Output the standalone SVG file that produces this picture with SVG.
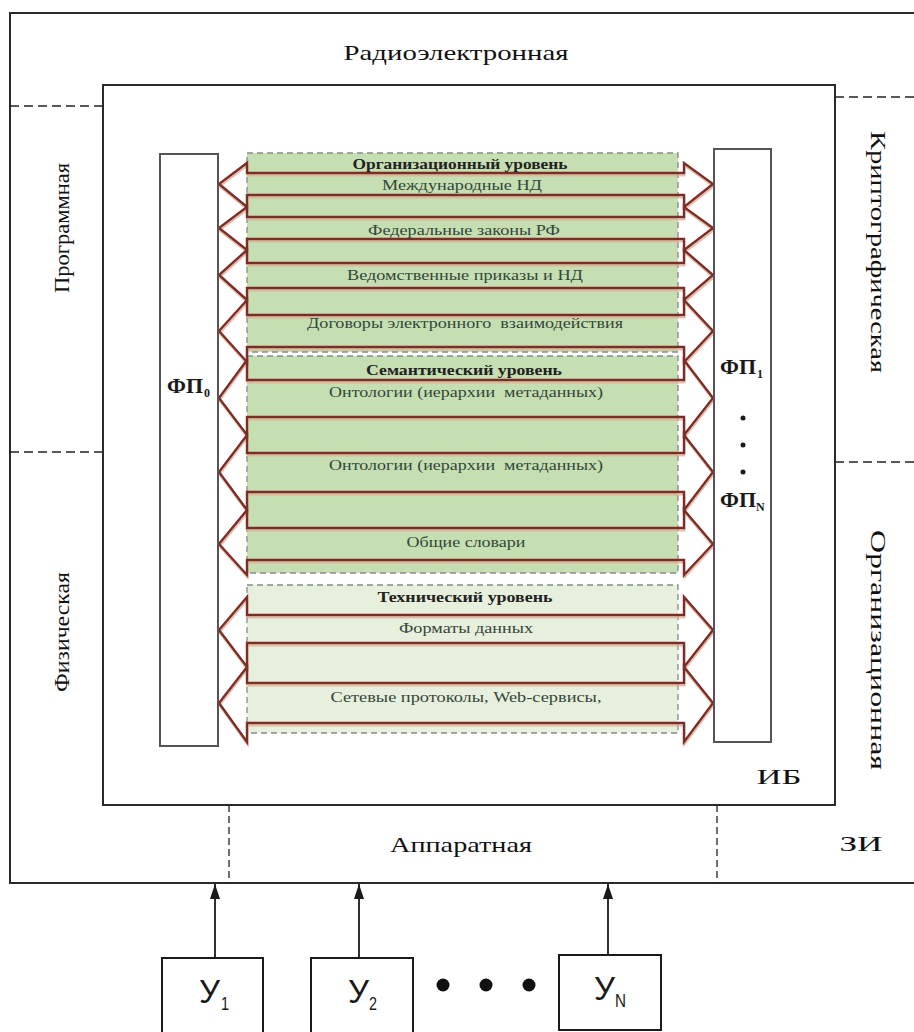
<svg xmlns="http://www.w3.org/2000/svg" width="914" height="1032" viewBox="0 0 914 1032">
<defs>
<style>
.frame{fill:none;stroke:#2a2a2a;stroke-width:2}
.dash{fill:none;stroke:#222;stroke-width:1.6;stroke-dasharray:9,5}
.vdash{fill:none;stroke:#222;stroke-width:1.3;stroke-dasharray:7,4}
.lvl{stroke:#8a8a8a;stroke-width:1.3;stroke-dasharray:6,4}
.arr{fill:none;stroke:#7b2e28;stroke-width:2.4;stroke-linejoin:miter}
.arrs{fill:none;stroke:#e5ab94;stroke-width:2;opacity:0.8}
.lbl{font-family:"Liberation Serif","Times New Roman",serif;font-size:22px;fill:#111}
.mid{font-family:"Liberation Serif","Times New Roman",serif;font-size:15px;fill:#34463a;text-anchor:middle}
.ttl{font-family:"Liberation Serif","Times New Roman",serif;font-size:15px;font-weight:bold;fill:#222;text-anchor:middle}
.fp{font-family:"Liberation Serif","Times New Roman",serif;font-size:20px;font-weight:bold;fill:#1a1a1a}
.fps{font-family:"Liberation Serif","Times New Roman",serif;font-size:12px;font-weight:bold;fill:#1a1a1a}
.box{fill:#fff;stroke:#555;stroke-width:2}
.ub{fill:#fff;stroke:#1a1a1a;stroke-width:2}
.u{font-family:"Liberation Sans",Arial,sans-serif;font-size:33px;fill:#1a1a1a}
.us{font-family:"Liberation Sans",Arial,sans-serif;font-size:19px;fill:#1a1a1a}
.con{stroke:#1a1a1a;stroke-width:1.8;fill:none}
</style>
<marker id="ah" markerWidth="15" markerHeight="10" refX="15" refY="5" orient="auto" markerUnits="userSpaceOnUse" viewBox="0 0 15 10">
<path d="M0,0 L15,5 L0,10 Z" fill="#1a1a1a"/>
</marker>
</defs>
<rect width="914" height="1032" fill="#fff"/>

<g id="zi">
<rect class="frame" x="10" y="13" width="916" height="870"/>
<line class="dash" x1="10" y1="106" x2="103" y2="106"/>
<line class="dash" x1="10" y1="452" x2="103" y2="452"/>
<line class="dash" x1="835" y1="97" x2="914" y2="97"/>
<line class="dash" x1="835" y1="462" x2="914" y2="462"/>
<line class="vdash" x1="229" y1="805" x2="229" y2="883"/>
<line class="vdash" x1="717" y1="805" x2="717" y2="883"/>
<text class="lbl" x="456" y="60" text-anchor="middle" textLength="225" lengthAdjust="spacingAndGlyphs">Радиоэлектронная</text>
<text class="lbl" transform="translate(69,228) rotate(-90)" text-anchor="middle" textLength="130" lengthAdjust="spacingAndGlyphs">Программная</text>
<text class="lbl" transform="translate(69,632) rotate(-90)" text-anchor="middle" textLength="120" lengthAdjust="spacingAndGlyphs">Физическая</text>
<text class="lbl" transform="translate(871,252) rotate(90)" text-anchor="middle" textLength="242" lengthAdjust="spacingAndGlyphs">Криптографическая</text>
<text class="lbl" transform="translate(871,650) rotate(90)" text-anchor="middle" textLength="240" lengthAdjust="spacingAndGlyphs">Организационная</text>
<text class="lbl" x="461" y="852" text-anchor="middle" textLength="142" lengthAdjust="spacingAndGlyphs">Аппаратная</text>
<text class="lbl" x="861" y="851" text-anchor="middle" font-size="30" textLength="43" lengthAdjust="spacingAndGlyphs">ЗИ</text>
</g>

<g id="ib">
<rect x="103" y="85" width="732" height="720" fill="#fff" stroke="#2a2a2a" stroke-width="2"/>
<text class="lbl" x="779" y="784" text-anchor="middle" font-size="27" textLength="45" lengthAdjust="spacingAndGlyphs">ИБ</text>
</g>

<g id="levels">
<rect x="247" y="153" width="431" height="199" fill="#c6dfb2"/>
<rect x="247" y="356" width="431" height="217" fill="#c6dfb2"/>
<rect x="247" y="585" width="431" height="148" fill="#e7efdd"/>
<rect class="lvl" x="247" y="153" width="431" height="199" fill="none"/>
<rect class="lvl" x="247" y="356" width="431" height="217" fill="none"/>
<rect class="lvl" x="247" y="585" width="431" height="148" fill="none"/>
</g>

<g id="connectors">
<g transform="translate(0.5,2.5)">
<path class="arrs" d="M684,173 L684,163 L713,184 L684,207 L684,195 L247,195 L247,207 L219,184 L247,163 L247,173 Z"/>
<path class="arrs" d="M684,217 L684,207 L713,228 L684,250 L684,239 L247,239 L247,250 L219,228 L247,207 L247,217 Z"/>
<path class="arrs" d="M684,263 L684,250 L713,275 L684,300 L684,288 L247,288 L247,300 L219,275 L247,250 L247,263 Z"/>
<path class="arrs" d="M684,315 L684,300 L713,331 L684,362 L684,347 L247,347 L247,362 L219,331 L247,300 L247,315 Z"/>
<path class="arrs" d="M684,380 L684,360 L713,398 L684,435 L684,417 L247,417 L247,435 L219,398 L247,360 L247,380 Z"/>
<path class="arrs" d="M684,453 L684,435 L713,472 L684,510 L684,492 L247,492 L247,510 L219,472 L247,435 L247,453 Z"/>
<path class="arrs" d="M684,528 L684,510 L713,544 L684,575 L684,560 L247,560 L247,575 L219,544 L247,510 L247,528 Z"/>
<path class="arrs" d="M684,615 L684,597 L713,630 L684,667 L684,643 L247,643 L247,667 L219,630 L247,597 L247,615 Z"/>
<path class="arrs" d="M684,683 L684,667 L713,703 L684,742 L684,723 L247,723 L247,742 L219,703 L247,667 L247,683 Z"/>
</g>
<path class="arr" d="M684,173 L684,163 L713,184 L684,207 L684,195 L247,195 L247,207 L219,184 L247,163 L247,173 Z"/>
<path class="arr" d="M684,217 L684,207 L713,228 L684,250 L684,239 L247,239 L247,250 L219,228 L247,207 L247,217 Z"/>
<path class="arr" d="M684,263 L684,250 L713,275 L684,300 L684,288 L247,288 L247,300 L219,275 L247,250 L247,263 Z"/>
<path class="arr" d="M684,315 L684,300 L713,331 L684,362 L684,347 L247,347 L247,362 L219,331 L247,300 L247,315 Z"/>
<path class="arr" d="M684,380 L684,360 L713,398 L684,435 L684,417 L247,417 L247,435 L219,398 L247,360 L247,380 Z"/>
<path class="arr" d="M684,453 L684,435 L713,472 L684,510 L684,492 L247,492 L247,510 L219,472 L247,435 L247,453 Z"/>
<path class="arr" d="M684,528 L684,510 L713,544 L684,575 L684,560 L247,560 L247,575 L219,544 L247,510 L247,528 Z"/>
<path class="arr" d="M684,615 L684,597 L713,630 L684,667 L684,643 L247,643 L247,667 L219,630 L247,597 L247,615 Z"/>
<path class="arr" d="M684,683 L684,667 L713,703 L684,742 L684,723 L247,723 L247,742 L219,703 L247,667 L247,683 Z"/>
<line class="con" x1="215" y1="957" x2="215" y2="884" marker-end="url(#ah)"/>
<line class="con" x1="359" y1="957" x2="359" y2="884" marker-end="url(#ah)"/>
<line class="con" x1="608" y1="954" x2="608" y2="884" marker-end="url(#ah)"/>
</g>

<g id="texts">
<text class="ttl" x="460" y="169" textLength="215" lengthAdjust="spacingAndGlyphs">Организационный уровень</text>
<text class="mid" x="462" y="190" textLength="160" lengthAdjust="spacingAndGlyphs">Международные НД</text>
<text class="mid" x="464" y="235" textLength="192" lengthAdjust="spacingAndGlyphs">Федеральные законы РФ</text>
<text class="mid" x="465" y="280" textLength="236" lengthAdjust="spacingAndGlyphs">Ведомственные приказы и НД</text>
<text class="mid" x="465" y="328" textLength="316" lengthAdjust="spacingAndGlyphs" xml:space="preserve">Договоры электронного  взаимодействия</text>
<text class="ttl" x="464" y="375" textLength="196" lengthAdjust="spacingAndGlyphs">Семантический уровень</text>
<text class="mid" x="466" y="397" textLength="274" lengthAdjust="spacingAndGlyphs" xml:space="preserve">Онтологии (иерархии  метаданных)</text>
<text class="mid" x="466" y="470" textLength="274" lengthAdjust="spacingAndGlyphs" xml:space="preserve">Онтологии (иерархии  метаданных)</text>
<text class="mid" x="466" y="547" textLength="119" lengthAdjust="spacingAndGlyphs">Общие словари</text>
<text class="ttl" x="465" y="602" textLength="175" lengthAdjust="spacingAndGlyphs">Технический уровень</text>
<text class="mid" x="466" y="633" textLength="134" lengthAdjust="spacingAndGlyphs">Форматы данных</text>
<text class="mid" x="466" y="702" textLength="271" lengthAdjust="spacingAndGlyphs">Сетевые протоколы, Web-сервисы,</text>
</g>

<g id="fp0">
<rect class="box" x="160" y="154" width="58" height="592"/>
<text class="fp" x="167" y="393" textLength="36" lengthAdjust="spacingAndGlyphs">ФП</text>
<text class="fps" x="204" y="397">0</text>
</g>

<g id="fp1">
<rect class="box" x="714" y="149" width="57" height="593"/>
<text class="fp" x="720" y="374" textLength="36" lengthAdjust="spacingAndGlyphs">ФП</text>
<text class="fps" x="757" y="378">1</text>
<circle cx="743" cy="418" r="2.5" fill="#1a1a1a"/>
<circle cx="743" cy="445" r="2.5" fill="#1a1a1a"/>
<circle cx="743" cy="472" r="2.5" fill="#1a1a1a"/>
<text class="fp" x="720" y="507" textLength="36" lengthAdjust="spacingAndGlyphs">ФП</text>
<text class="fps" x="756" y="511">N</text>
</g>

<g id="u1">
<rect class="ub" x="162" y="958" width="101" height="90"/>
<text class="u" x="199" y="1003" textLength="21" lengthAdjust="spacingAndGlyphs">У</text>
<text class="us" x="221" y="1010" textLength="8" lengthAdjust="spacingAndGlyphs">1</text>
</g>
<g id="u2">
<rect class="ub" x="311" y="958" width="102" height="90"/>
<text class="u" x="348" y="1003" textLength="21" lengthAdjust="spacingAndGlyphs">У</text>
<text class="us" x="369" y="1010" textLength="8" lengthAdjust="spacingAndGlyphs">2</text>
</g>
<g id="dots">
<circle cx="443" cy="985" r="6.5" fill="#111"/>
<circle cx="486" cy="985" r="6.5" fill="#111"/>
<circle cx="529" cy="985" r="6.5" fill="#111"/>
</g>
<g id="un">
<rect class="ub" x="559" y="955" width="102" height="75"/>
<text class="u" x="594" y="1000" textLength="21" lengthAdjust="spacingAndGlyphs">У</text>
<text class="us" x="615" y="1007" textLength="11" lengthAdjust="spacingAndGlyphs">N</text>
</g>
</svg>
